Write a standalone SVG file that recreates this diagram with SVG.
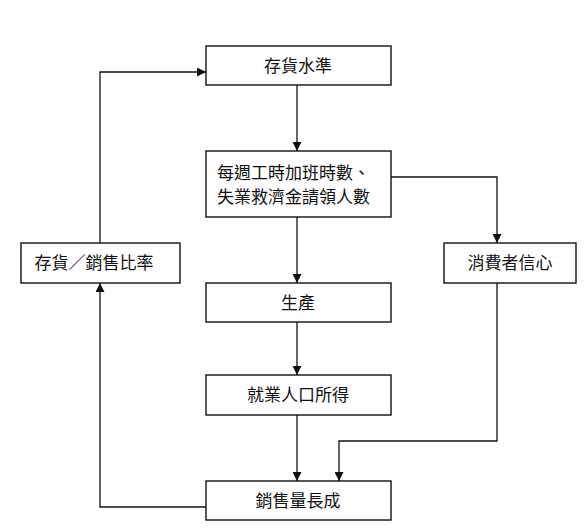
<svg xmlns="http://www.w3.org/2000/svg" width="584" height="531" viewBox="0 0 584 531">
<style>
.box{fill:#fff;stroke:#111;stroke-width:1.4}
.t{font-family:"Liberation Sans","Noto Sans CJK TC",sans-serif;font-size:17px;fill:#111}
.c{text-anchor:middle;dominant-baseline:central}
.ln{fill:none;stroke:#111;stroke-width:1.3}
</style>
<defs>
<marker id="ah" viewBox="0 0 10 10" refX="10" refY="5" markerWidth="9" markerHeight="9" markerUnits="userSpaceOnUse" orient="auto">
<path d="M0,0L10,5L0,10z" fill="#111"/>
</marker>
</defs>
<rect width="584" height="531" fill="#fff"/>
<g id="connectors">
<path class="ln" d="M297,85V151" marker-end="url(#ah)"/>
<path class="ln" d="M391,177H497V243" marker-end="url(#ah)"/>
<path class="ln" d="M297,217V283" marker-end="url(#ah)"/>
<path class="ln" d="M297,322V375" marker-end="url(#ah)"/>
<path class="ln" d="M297,415V481" marker-end="url(#ah)"/>
<path class="ln" d="M497,283V441H339V481" marker-end="url(#ah)"/>
<path class="ln" d="M206,507H100V283" marker-end="url(#ah)"/>
<path class="ln" d="M100,243V72H206" marker-end="url(#ah)"/>
</g>
<g id="inventory-level">
<rect class="box" x="206" y="46" width="185" height="39"/>
<text class="t c" x="298" y="66">存貨水準</text>
</g>
<g id="weekly-hours">
<rect class="box" x="206" y="151" width="185" height="66"/>
<text class="t" x="217" y="179">每週工時加班時數、</text>
<text class="t" x="217" y="203">失業救濟金請領人數</text>
</g>
<g id="inventory-sales-ratio">
<rect class="box" x="21" y="243" width="159" height="40"/>
<text class="t c" x="94" y="263">存貨／銷售比率</text>
</g>
<g id="consumer-confidence">
<rect class="box" x="444" y="243" width="132" height="40"/>
<text class="t c" x="510" y="263">消費者信心</text>
</g>
<g id="production">
<rect class="box" x="206" y="283" width="185" height="39"/>
<text class="t c" x="298" y="303">生產</text>
</g>
<g id="employment-income">
<rect class="box" x="206" y="375" width="185" height="40"/>
<text class="t c" x="298" y="395">就業人口所得</text>
</g>
<g id="sales-growth">
<rect class="box" x="206" y="481" width="185" height="39"/>
<text class="t c" x="298" y="501">銷售量長成</text>
</g>
</svg>
